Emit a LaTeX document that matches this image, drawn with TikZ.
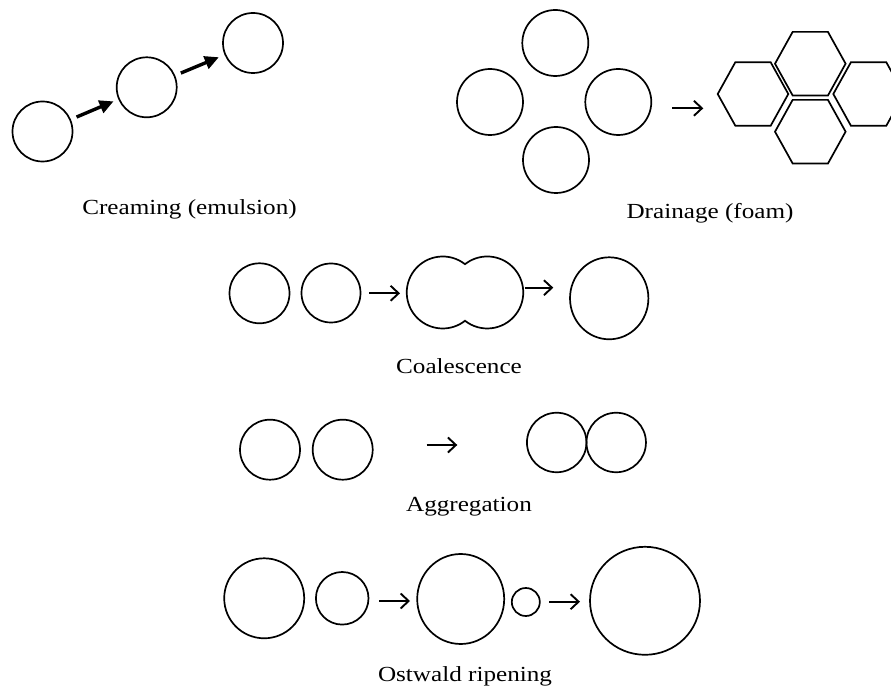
\documentclass[tikz,border=0pt]{standalone}
\usepackage{fontspec}
\setmainfont{Liberation Serif}
\newfontfamily\labfont[FakeStretch=1.17]{Liberation Serif}
\usetikzlibrary{arrows.meta,shapes.geometric}
\begin{document}
\begin{tikzpicture}[x=1pt,y=1pt,
  drop/.style={draw, circle, line width=1.7pt, inner sep=0pt, outer sep=0pt},
  oval/.style={draw, ellipse, line width=1.7pt, inner sep=0pt, outer sep=0pt},
  boldarr/.style={line width=3.4pt, -{Triangle[length=14pt,width=13pt]}},
  thinarr/.style={line width=1.9pt, -{Straight Barb[length=8pt,width=15pt,line width=1.9pt]}},
  lab/.style={anchor=base, inner sep=0pt, font=\labfont\fontsize{21.5}{25}\selectfont},
  hexa/.style={line width=1.7pt, line join=miter},
  hex/.pic={\draw[hexa] (-35.3,0) -- (-17.65,31.8) -- (17.65,31.8) -- (35.3,0) -- (17.65,-31.8) -- (-17.65,-31.8) -- cycle;}]
\useasboundingbox (0,0) rectangle (891,693);
\clip (0,0) rectangle (891,693);

% ---- Creaming
\node[drop, minimum size=60pt] (cr1) at (42.5,561.5) {};
\node[drop, minimum size=60pt] (cr2) at (146.7,605.7) {};
\node[drop, minimum size=60pt] (cr3) at (253,650) {};
\draw[boldarr, shorten <=7pt, shorten >=6pt] (cr1) -- (cr2);
\draw[boldarr, shorten <=7pt, shorten >=7pt] (cr2) -- (cr3);
\node[lab] (lcr) at (189.5,478) {Creaming (emulsion)};

% ---- Drainage
\node[drop, minimum size=66pt] (dt) at (555.3,650) {};
\node[drop, minimum size=66pt] (dl) at (490,591) {};
\node[drop, minimum size=66pt] (dr) at (618.3,591) {};
\node[drop, minimum size=66pt] (db) at (556,533) {};
\coordinate (da1) at (672.3,584.7);
\coordinate (da2) at (703.3,584.7);
\draw[thinarr] (da1) -- (da2);
\coordinate (h1) at (753,599);
\coordinate (h2) at (810.3,629.3);
\coordinate (h3) at (868.6,599);
\coordinate (h4) at (810.3,561.3);
\pic at (h1) {hex};
\pic at (h2) {hex};
\pic at (h3) {hex};
\pic at (h4) {hex};
\node[lab] (ldr) at (710,474.7) {Drainage (foam)};

% ---- Coalescence
\node[drop, minimum size=60pt] (co1) at (259.5,399.7) {};
\node[drop, minimum size=59pt] (co2) at (331,400) {};
\coordinate (ca1) at (369,399.7);
\coordinate (ca2) at (400,399.7);
\draw[thinarr] (ca1) -- (ca2);
\draw[line width=1.7pt] (465,428.8) arc[start angle=51.8, end angle=308.2, radius=36]
  arc[start angle=231.8, end angle=488.2, radius=36] -- cycle;
\coordinate (cb1) at (525,405.3);
\coordinate (cb2) at (553.3,405.3);
\draw[thinarr] (cb1) -- (cb2);
\node[oval, minimum width=78.4pt, minimum height=82pt] (co4) at (609.2,394.7) {};
\node[lab] (lco) at (459,319.7) {Coalescence};

% ---- Aggregation
\node[drop, minimum size=60pt] (ag1) at (270,243.3) {};
\node[drop, minimum size=60pt] (ag2) at (342.7,243.3) {};
\coordinate (aa1) at (426.7,248);
\coordinate (aa2) at (457.3,248);
\draw[thinarr] (aa1) -- (aa2);
\node[drop, minimum size=59.5pt] (ag3) at (556.7,250.5) {};
\node[drop, minimum size=59.5pt] (ag4) at (616.2,250.5) {};
\node[lab] (lag) at (469,181.4) {Aggregation};

% ---- Ostwald ripening
\node[drop, minimum size=80pt] (os1) at (264.2,94.7) {};
\node[drop, minimum size=52.6pt] (os2) at (342.2,94.7) {};
\coordinate (oa1) at (379.3,92);
\coordinate (oa2) at (410,92);
\draw[thinarr] (oa1) -- (oa2);
\node[oval, minimum width=87pt, minimum height=90pt] (os3) at (460.7,94) {};
\node[drop, minimum size=28pt] (os4) at (525.8,91) {};
\coordinate (ob1) at (549.3,91.3);
\coordinate (ob2) at (580,91.3);
\draw[thinarr] (ob1) -- (ob2);
\node[oval, minimum width=110pt, minimum height=108pt] (os5) at (645,92.2) {};
\node[lab] (los) at (465,11.3) {Ostwald ripening};
\end{tikzpicture}
\end{document}
